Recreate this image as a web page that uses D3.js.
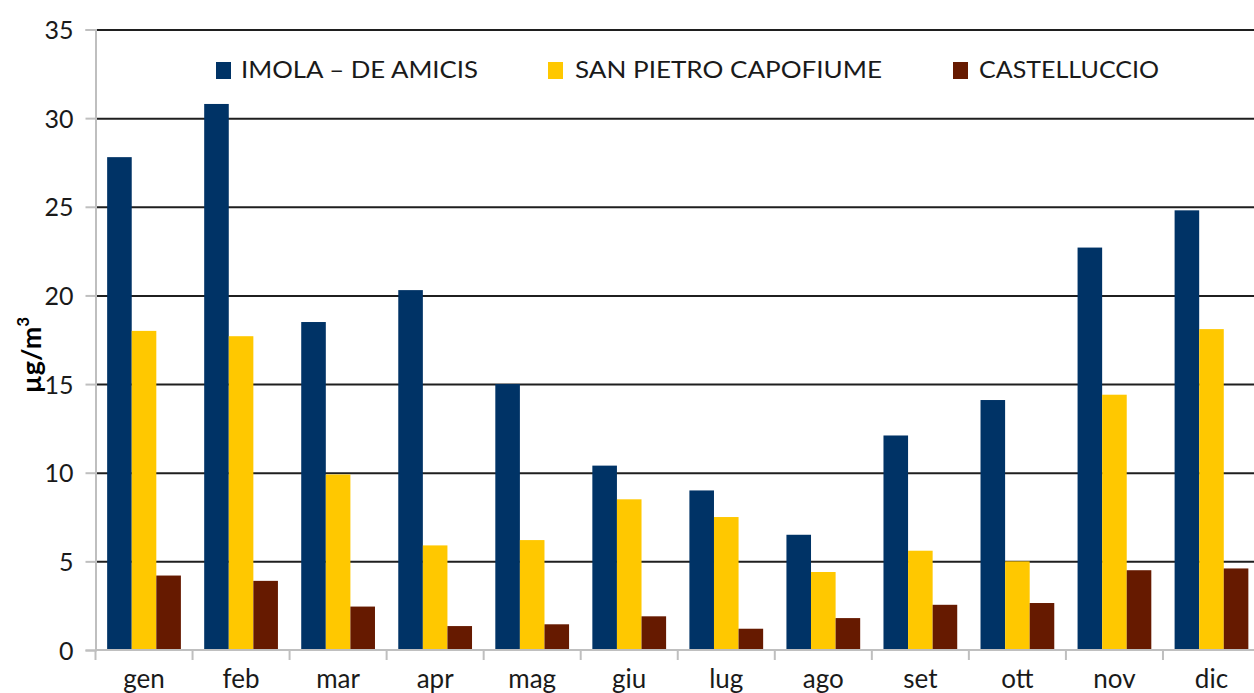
<!DOCTYPE html>
<html>
<head>
<meta charset="utf-8">
<script src="https://cdn.jsdelivr.net/npm/d3@7"></script>
<style>
  html, body { margin: 0; padding: 0; background: #fff; overflow: hidden; }
  svg { display: block; font-family: Lato, "Open Sans", sans-serif; }
</style>
</head>
<body>
<div id="chart"></div>
<script>
// monthly means, µg/m³
const months = ['gen', 'feb', 'mar', 'apr', 'mag', 'giu', 'lug', 'ago', 'set', 'ott', 'nov', 'dic'];
const seriesNames = ['IMOLA \u2013 DE AMICIS', 'SAN PIETRO CAPOFIUME', 'CASTELLUCCIO'];
const imola = [27.8, 30.8, 18.5, 20.3, 15.0, 10.4, 9.0, 6.5, 12.1, 14.1, 22.7, 24.8];
const sanPietro = [18.0, 17.7, 9.9, 5.9, 6.2, 8.5, 7.5, 4.4, 5.6, 5.0, 14.4, 18.1];
const castelluccio = [4.2, 3.9, 2.45, 1.35, 1.45, 1.9, 1.2, 1.8, 2.55, 2.65, 4.5, 4.6];
const yTicks = [0, 5, 10, 15, 20, 25, 30, 35];

const COLORS = ['#003366', '#ffc800', '#661a00'];
const W = 1254, H = 693;
const M = { top: 29.5, right: -6, bottom: 43, left: 95.5 };
const iW = W - M.left - M.right;
const iH = H - M.top - M.bottom;

const series = [imola, sanPietro, castelluccio];

const svg = d3.select('#chart').append('svg')
    .attr('width', W)
    .attr('height', H);

const g = svg.append('g').attr('transform', `translate(${M.left},${M.top})`);

const x = d3.scaleBand().domain(months).range([0, iW]).paddingInner(0.24).paddingOuter(0.12);
const xs = d3.scaleBand().domain(d3.range(series.length)).range([0, x.bandwidth()]);
const y = d3.scaleLinear().domain([0, 35]).range([iH, 0]);

// gridlines
g.append('g')
    .call(d3.axisLeft(y).tickValues(yTicks.filter(v => v > 0)).tickSize(-iW).tickFormat(''))
    .call(sg => {
        sg.select('.domain').remove();
        sg.selectAll('.tick line').attr('stroke', '#1f1f1f').attr('stroke-width', 2);
    });

// bars
const groups = g.selectAll('.month')
    .data(months)
    .join('g')
    .attr('class', 'month')
    .attr('transform', d => `translate(${x(d)},0)`);

groups.selectAll('rect')
    .data((m, i) => series.map((s, k) => ({ k, v: s[i] })))
    .join('rect')
    .attr('x', d => xs(d.k))
    .attr('width', xs.bandwidth())
    .attr('y', d => y(d.v))
    .attr('height', d => iH - y(d.v))
    .attr('fill', d => COLORS[d.k]);

// y axis
g.append('g')
    .call(d3.axisLeft(y).tickValues(yTicks).tickSize(10).tickPadding(12))
    .call(sg => {
        sg.select('.domain').attr('stroke', '#bfbfbf').attr('stroke-width', 2);
        sg.selectAll('.tick line').attr('stroke', '#bfbfbf').attr('stroke-width', 2);
        sg.selectAll('.tick text')
            .attr('fill', '#1a1a1a')
            .attr('font-size', 25)
            .attr('font-family', 'Lato, sans-serif')
            .attr('dy', '0.36em');
    });

// x axis: ticks at band boundaries
const xAxis = g.append('g').attr('transform', `translate(0,${iH})`);
xAxis.append('line')
    .attr('x1', 0).attr('x2', iW)
    .attr('stroke', '#bfbfbf').attr('stroke-width', 2);
xAxis.selectAll('.bound')
    .data(months)
    .join('line')
    .attr('class', 'bound')
    .attr('x1', d => x(d) - x.step() * x.paddingInner() / 2)
    .attr('x2', d => x(d) - x.step() * x.paddingInner() / 2)
    .attr('y1', 0).attr('y2', 10)
    .attr('stroke', '#bfbfbf').attr('stroke-width', 2);
xAxis.selectAll('.lbl')
    .data(months)
    .join('text')
    .attr('class', 'lbl')
    .attr('x', d => x(d) + x.bandwidth() / 2)
    .attr('y', 38)
    .attr('text-anchor', 'middle')
    .attr('font-size', 26)
    .attr('fill', '#1a1a1a')
    .text(d => d);

// y label
const yl = svg.append('text')
    .attr('transform', `translate(41,355) rotate(-90)`)
    .attr('text-anchor', 'middle')
    .attr('font-size', 27)
    .attr('font-weight', 'bold')
    .attr('fill', '#000');
yl.append('tspan').text('\u00b5g/m');
yl.append('tspan').attr('font-size', 17).attr('dy', -12).text('3');

// legend
const legendPos = [
    { sx: 216, tx: 241, len: 237 },
    { sx: 548, tx: 575, len: 307 },
    { sx: 953, tx: 979, len: 180 }
];
const legend = svg.append('g');
seriesNames.forEach((name, k) => {
    legend.append('rect')
        .attr('x', legendPos[k].sx).attr('y', 62)
        .attr('width', 15).attr('height', 17)
        .attr('fill', COLORS[k]);
    legend.append('text')
        .attr('x', legendPos[k].tx).attr('y', 78)
        .attr('font-size', 24)
        .attr('fill', '#1a1a1a')
        .attr('textLength', legendPos[k].len)
        .attr('lengthAdjust', 'spacingAndGlyphs')
        .text(name);
});
</script>
</body>
</html>
